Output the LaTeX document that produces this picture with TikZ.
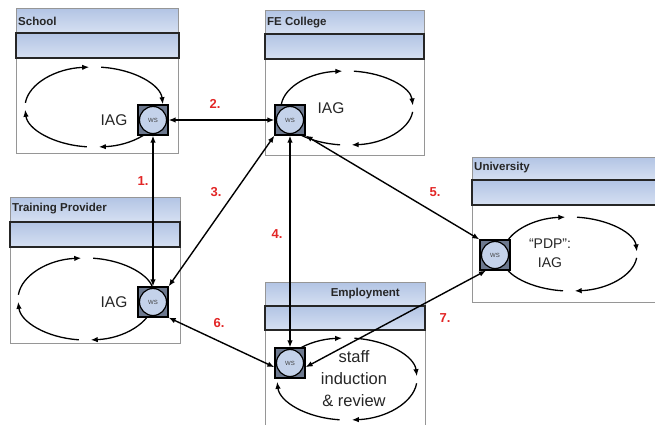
\documentclass[tikz,border=0pt]{standalone}
\usepackage{fontspec}
\setmainfont{Liberation Sans}
\usetikzlibrary{arrows.meta}

\definecolor{hdrtop}{RGB}{178,196,228}
\definecolor{hdrbot}{RGB}{214,224,242}
\definecolor{wsfill}{RGB}{196,210,234}
\definecolor{wsdark}{RGB}{108,120,142}
\definecolor{numred}{RGB}{226,38,38}
\definecolor{boxgray}{RGB}{150,150,150}

\tikzset{
    orgbox/.style={draw=boxgray, line width=0.8pt, fill=white},
    hdrband/.style={top color=hdrtop, bottom color=hdrbot, draw=boxgray, line width=0.8pt},
    hdrbar/.style={top color=hdrtop, bottom color=hdrbot, draw=black!85, line width=1.3pt},
    title/.style={font=\bfseries\fontsize{11.5}{13}\selectfont, text=black!85, inner sep=0pt},
    iag/.style={font=\fontsize{15.5}{19}\selectfont, text=black!85, align=center, inner sep=0pt},
    num/.style={font=\bfseries\fontsize{13}{15}\selectfont, text=numred, inner sep=0pt},
    ws/.style={draw=black, line width=1.2pt, fill=wsdark, minimum size=30pt, inner sep=0pt,
        font=\fontsize{6}{6}\selectfont, text=black!75,
        path picture={\draw[fill=wsfill, line width=1.2pt] (path picture bounding box.center) circle (13.5pt);}},
    looparrow/.style={line width=1.3pt, -{Latex[length=7pt,width=5.5pt]}},
    link/.style={line width=1.4pt, {Latex[length=7pt,width=5.5pt]}-{Latex[length=7pt,width=5.5pt]}}
}

\newcommand{\iagloop}[4]{%
    \foreach \a in {0,90,180,270}
        \draw[looparrow] (#1,#2) ++(\a+6:#3 and #4) arc[start angle=\a+6, end angle=\a+86, x radius=#3, y radius=#4];
}

\begin{document}
\begin{tikzpicture}[x=1pt, y=-1pt]
            \useasboundingbox (0,0) rectangle (655,424);

            \draw[orgbox] (16,8) rectangle (178,153);
            \draw[hdrband] (16,8) rectangle (178,33);
            \draw[hdrbar] (16,33) rectangle (179,58);

            \draw[orgbox] (265,10) rectangle (424,155);
            \draw[hdrband] (265,10) rectangle (424,34);
            \draw[hdrbar] (265,34) rectangle (424,59);

            \draw[orgbox] (10,197) rectangle (180,343);
            \draw[hdrband] (10,197) rectangle (180,222);
            \draw[hdrbar] (10,222) rectangle (180,247);

            \draw[orgbox] (265,282) rectangle (425,440);
            \draw[hdrband] (265,282) rectangle (425,306);
            \draw[hdrbar] (265,306) rectangle (425,330);

            \draw[orgbox] (472,157) rectangle (670,302);
            \draw[hdrband] (472,157) rectangle (670,180);
            \draw[hdrbar] (472,180) rectangle (670,205);

            \node[title, anchor=west] (tSchool) at (18,21) {School};
            \node[title, anchor=west] (tCollege) at (267,23) {FE College};
            \node[title, anchor=west] (tTraining) at (12,209) {Training Provider};
            \node[title, anchor=east] (tEmploy) at (400,294) {Employment};
            \node[title, anchor=west] (tUni) at (474,168) {University};

            \iagloop{94}{107}{69}{40}
            \iagloop{347}{108}{66}{37}
            \iagloop{86}{299}{68}{41}
            \iagloop{347}{379}{70}{41}
            \iagloop{570}{254}{67}{37}

            \node[iag] (iSchool) at (114,120) {IAG};
            \node[iag] (iCollege) at (331,108) {IAG};
            \node[iag] (iTraining) at (114,302) {IAG};
            \node[iag, font=\fontsize{14}{19}\selectfont] (iUni) at (550,253) {``PDP'':\\IAG};
            \node[iag, font=\fontsize{16.5}{22}\selectfont] (iEmploy) at (354,379) {staff\\induction\\\& review};

            \node[ws] (sch) at (153,120) {WS};
            \node[ws] (fe) at (290,120) {WS};
            \node[ws] (tp) at (153,302) {WS};
            \node[ws] (emp) at (290,363) {WS};
            \node[ws] (univ) at (495,255) {WS};

            \draw[link] (sch.south) -- (tp.north);
            \draw[link] (sch.east) -- (fe.west);
            \draw[link] (fe.south west) -- (tp.north east);
            \draw[link] (fe.south) -- (emp.north);
            \draw[link] (fe.south east) -- (univ.north west);
            \draw[link] (tp.south east) -- (emp.195);
            \draw[link] (univ.240) -- (emp.-15);

            \node[num] (n1) at (143,181) {1.};
            \node[num] (n2) at (215,104) {2.};
            \node[num] (n3) at (216,192) {3.};
            \node[num] (n4) at (277,234) {4.};
            \node[num] (n5) at (435,192) {5.};
            \node[num] (n6) at (219,323) {6.};
            \node[num] (n7) at (445,318) {7.};
        \end{tikzpicture}
\end{document}
